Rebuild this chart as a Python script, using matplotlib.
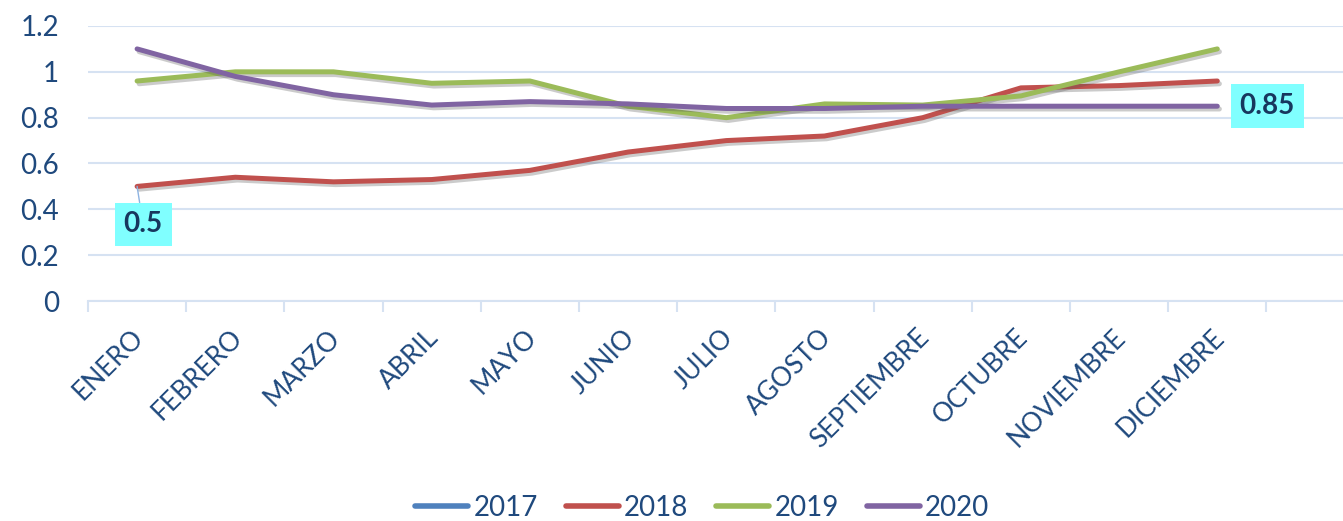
import numpy as np
import matplotlib
matplotlib.use("Agg")
import matplotlib.pyplot as plt
from matplotlib.lines import Line2D
import matplotlib.patheffects as pe
import matplotlib.transforms as mtransforms

plt.rcParams['font.family'] = ['Lato', 'DejaVu Sans']

# data
meses = ["ENERO", "FEBRERO", "MARZO", "ABRIL", "MAYO", "JUNIO", "JULIO",
         "AGOSTO", "SEPTIEMBRE", "OCTUBRE", "NOVIEMBRE", "DICIEMBRE"]
anios = ["2017", "2018", "2019", "2020"]
v2017 = [np.nan] * 12
v2018 = [0.50, 0.54, 0.52, 0.53, 0.57, 0.65, 0.70, 0.72, 0.80, 0.93, 0.94, 0.96]
v2019 = [0.96, 1.00, 1.00, 0.95, 0.96, 0.85, 0.80, 0.86, 0.855, 0.895, 1.00, 1.10]
v2020 = [1.10, 0.98, 0.90, 0.855, 0.87, 0.86, 0.84, 0.84, 0.85, 0.85, 0.85, 0.85]
colores = ["#4F81BD", "#C0504D", "#9BBB59", "#8064A2"]

txt = "#1F497D"
grid = "#D6E2F2"

fig = plt.figure(figsize=(13.43, 5.21), dpi=100)
ax = fig.add_axes([88 / 1343, 1 - 301 / 521, 1 - 88 / 1343, (301 - 26) / 521])

x = np.arange(len(meses))
series = [v2017, v2018, v2019, v2020]
shadow = [pe.SimpleLineShadow(offset=(1.5, -2), shadow_color="#555555", alpha=0.3),
          pe.Normal()]
for vals, c in zip(series, colores):
    ax.plot(x, vals, color=c, lw=3.6, solid_capstyle="round",
            solid_joinstyle="round", path_effects=shadow, zorder=3)

ax.set_yticks(np.arange(0, 1.21, 0.2))
ax.set_yticklabels(["0", "0.2", "0.4", "0.6", "0.8", "1", "1.2"])
ax.yaxis.grid(True, color=grid, lw=1.5)
ax.set_axisbelow(True)
ax.tick_params(axis="y", length=0, pad=21, labelsize=20, labelcolor=txt)

ax.set_xticks(x)
ax.set_xticklabels(meses, rotation=45, ha="right", rotation_mode="anchor")
ax.tick_params(axis="x", which="major", length=0, pad=17, labelsize=19, labelcolor=txt)
shift = mtransforms.ScaledTranslation(-6 / 100, 0, fig.dpi_scale_trans)
for lbl in ax.get_xticklabels():
    lbl.set_transform(lbl.get_transform() + shift)
ax.set_xticks(np.arange(-0.5, 12.6, 1), minor=True)
ax.tick_params(axis="x", which="minor", length=8, width=1.5, color=grid)

ax.set_ylim(0, 1.2)
ax.set_xlim(-0.5, 12.28)

for s in ["top", "right", "left"]:
    ax.spines[s].set_visible(False)
ax.spines["bottom"].set_color(grid)
ax.spines["bottom"].set_linewidth(1.5)

# data labels
ax.annotate("0.5", xy=(0, v2018[0]), xytext=(6, -38), textcoords="offset pixels",
            ha="center", va="center", fontsize=20, fontweight="bold", color="#17375E",
            bbox=dict(boxstyle="square,pad=0.32", fc="#80FFFF", ec="none"),
            arrowprops=dict(arrowstyle="-", color="#8DB3E2", lw=1, shrinkA=0, shrinkB=0),
            zorder=5)
ax.annotate("0.85", xy=(11, v2020[11]), xytext=(50, 0), textcoords="offset pixels",
            ha="center", va="center", fontsize=20, fontweight="bold", color="#17375E",
            bbox=dict(boxstyle="square,pad=0.32", fc="#80FFFF", ec="none"), zorder=5)

handles = [Line2D([0], [0], color=c, lw=4, solid_capstyle="round") for c in colores]
fig.legend(handles, anios, loc="center", bbox_to_anchor=(0.523, 0.025), ncol=4,
           frameon=False, fontsize=20, labelcolor=txt, handlelength=1.9,
           handletextpad=0.2, columnspacing=1.0)

fig.savefig("out.png", dpi=100)
